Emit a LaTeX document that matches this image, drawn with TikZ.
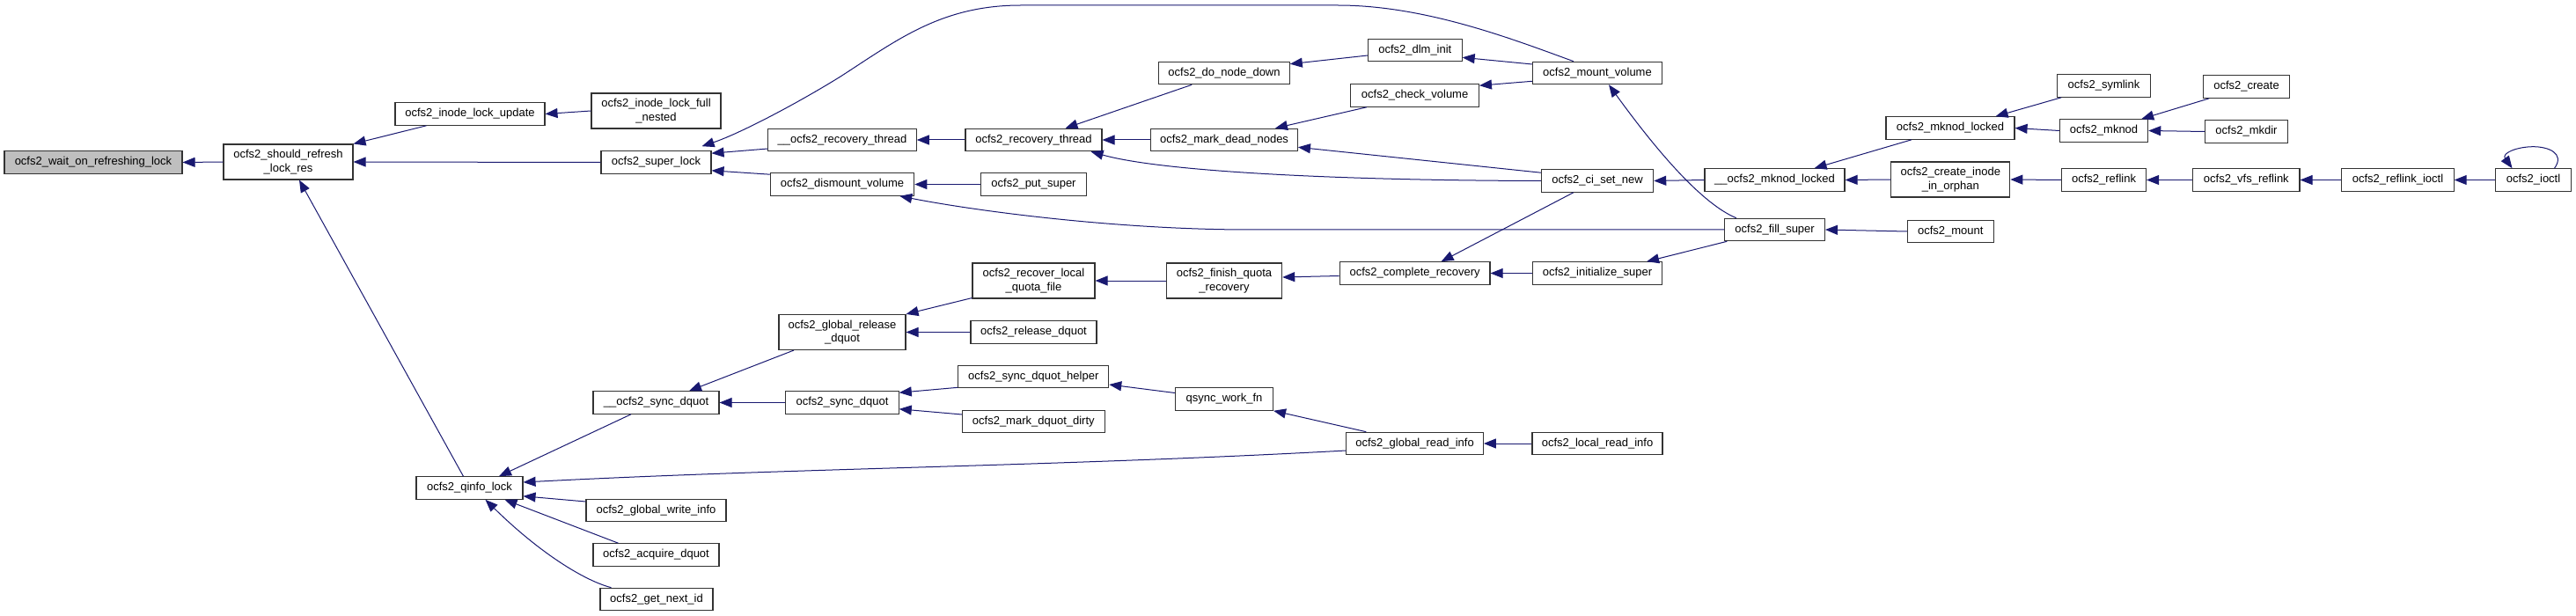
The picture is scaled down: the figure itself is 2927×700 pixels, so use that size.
\documentclass[tikz,border=0pt]{standalone}
\usepackage{fontspec}
\setmainfont{Liberation Sans}
\usetikzlibrary{arrows.meta,calc}
\definecolor{edgeblue}{HTML}{191970}
\begin{document}
\begin{tikzpicture}[x=0.5pt,y=-0.5pt,
  box/.style={draw=black!80, line width=0.55pt, fill=white, inner sep=0pt, align=center,
    font=\fontsize{6.5}{7.85}\selectfont, minimum height=12.75pt},
  tall/.style={minimum height=20pt},
  root/.style={fill=black!25},
  edge/.style={draw=edgeblue, line width=0.5pt, -{Triangle[length=7pt,width=5.5pt]}},
]
\useasboundingbox (0,0) rectangle (2927,700);
% nodes
\node[box,root,minimum width=101pt] (n0) at (106,184.5) {ocfs2\_wait\_on\_refreshing\_lock};
\node[box,tall,minimum width=73.5pt] (n1) at (327.5,184) {ocfs2\_should\_refresh\\\_lock\_res};
\node[box,minimum width=85pt] (n2) at (534,129.5) {ocfs2\_inode\_lock\_update};
\node[box,minimum width=62.5pt] (n3) at (745.5,184.5) {ocfs2\_super\_lock};
\node[box,minimum width=60.5pt] (n4) at (533.5,554.5) {ocfs2\_qinfo\_lock};
\node[box,tall,minimum width=73.5pt] (n5) at (745.5,126) {ocfs2\_inode\_lock\_full\\\_nested};
\node[box,minimum width=84.2pt] (n6) at (957,159) {\_\_ocfs2\_recovery\_thread};
\node[box,minimum width=81.7pt] (n7) at (957,209.5) {ocfs2\_dismount\_volume};
\node[box,minimum width=73.5pt] (n8) at (1815,83) {ocfs2\_mount\_volume};
\node[box,minimum width=77.5pt] (n9) at (1174.5,159) {ocfs2\_recovery\_thread};
\node[box,minimum width=59.65pt] (n10) at (1174.5,209.5) {ocfs2\_put\_super};
\node[box,minimum width=56.8pt] (n11) at (2016.6,261) {ocfs2\_fill\_super};
\node[box,minimum width=74.25pt] (n12) at (1391,83) {ocfs2\_do\_node\_down};
\node[box,minimum width=83.4pt] (n13) at (1391,159) {ocfs2\_mark\_dead\_nodes};
\node[box,minimum width=63.65pt] (n14) at (1815,205.5) {ocfs2\_ci\_set\_new};
\node[box,minimum width=53.3pt] (n15) at (1607.8,57) {ocfs2\_dlm\_init};
\node[box,minimum width=72.8pt] (n16) at (1607.6,108.5) {ocfs2\_check\_volume};
\node[box,minimum width=79.5pt] (n17) at (2016.5,204.5) {\_\_ocfs2\_mknod\_locked};
\node[box,minimum width=85.4pt] (n18) at (1607.6,310.5) {ocfs2\_complete\_recovery};
\node[box,minimum width=73.5pt] (n19) at (1815,310.5) {ocfs2\_initialize\_super};
\node[box,tall,minimum width=65.65pt] (n20) at (1391,319) {ocfs2\_finish\_quota\\\_recovery};
\node[box,tall,minimum width=69.5pt] (n21) at (1174.5,319) {ocfs2\_recover\_local\\\_quota\_file};
\node[box,tall,minimum width=72pt] (n22) at (957,377.5) {ocfs2\_global\_release\\\_dquot};
\node[box,minimum width=71.5pt] (n23) at (1174.5,377.5) {ocfs2\_release\_dquot};
\node[box,minimum width=71.5pt] (n24) at (745.5,457.5) {\_\_ocfs2\_sync\_dquot};
\node[box,minimum width=64.2pt] (n25) at (957,457.5) {ocfs2\_sync\_dquot};
\node[box,minimum width=77.7pt] (n26) at (1607.6,504) {ocfs2\_global\_read\_info};
\node[box,minimum width=79.5pt] (n27) at (745.5,580) {ocfs2\_global\_write\_info};
\node[box,minimum width=71.5pt] (n28) at (745.5,630.5) {ocfs2\_acquire\_dquot};
\node[box,minimum width=64pt] (n29) at (746,681) {ocfs2\_get\_next\_id};
\node[box,minimum width=85.4pt] (n30) at (1174.3,428) {ocfs2\_sync\_dquot\_helper};
\node[box,minimum width=80.85pt] (n31) at (1174.3,479) {ocfs2\_mark\_dquot\_dirty};
\node[box,minimum width=55.5pt] (n32) at (1391,453.5) {qsync\_work\_fn};
\node[box,minimum width=74pt] (n33) at (1815,504) {ocfs2\_local\_read\_info};
\node[box,minimum width=73pt] (n34) at (2216,145.5) {ocfs2\_mknod\_locked};
\node[box,tall,minimum width=67.5pt] (n35) at (2216.3,204) {ocfs2\_create\_inode\\\_in\_orphan};
\node[box,minimum width=49pt] (n36) at (2216.3,263) {ocfs2\_mount};
\node[box,minimum width=53.3pt] (n37) at (2390.5,97.5) {ocfs2\_symlink};
\node[box,minimum width=50.15pt] (n38) at (2390.5,148.5) {ocfs2\_mknod};
\node[box,minimum width=48pt] (n39) at (2390.5,204.5) {ocfs2\_reflink};
\node[box,minimum width=48.65pt] (n40) at (2552.5,98.5) {ocfs2\_create};
\node[box,minimum width=46.9pt] (n41) at (2552.5,149.5) {ocfs2\_mkdir};
\node[box,minimum width=60.7pt] (n42) at (2552.3,204.5) {ocfs2\_vfs\_reflink};
\node[box,minimum width=63.65pt] (n43) at (2724.5,204.5) {ocfs2\_reflink\_ioctl};
\node[box,minimum width=42.9pt] (n44) at (2878.5,204.5) {ocfs2\_ioctl};
% horizontal edges
\draw[edge] (n1.west) -- (n0.east);
\draw[edge] (n3.west) -- (n1.east);
\draw[edge] (n5.west) -- (n2.east);
\draw[edge] (n9.west) -- (n6.east);
\draw[edge] (n10.west) -- (n7.east);
\draw[edge] (n13.west) -- (n9.east);
\draw[edge] (n17.west) -- (n14.east);
\draw[edge] (n19.west) -- (n18.east);
\draw[edge] (n20.west) -- (n21.east);
\draw[edge] (n23.west) -- (n22.east);
\draw[edge] (n25.west) -- (n24.east);
\draw[edge] (n33.west) -- (n26.east);
\draw[edge] (n35.west) -- (n17.east);
\draw[edge] (n36.west) -- (n11.east);
\draw[edge] (n38.west) -- (n34.east);
\draw[edge] (n39.west) -- (n35.east);
\draw[edge] (n41.west) -- (n38.east);
\draw[edge] (n42.west) -- (n39.east);
\draw[edge] (n43.west) -- (n42.east);
\draw[edge] (n44.west) -- (n43.east);
% slanted edges
\draw[edge] ($(n2.south west)+(36,0)$) -- (n1.north east);
\draw[edge] ($(n4.north west)+(54,0)$) -- ($(n1.south)+(12.5,0)$);
\draw[edge] ($(n6.west)+(0,10)$) -- ($(n3.north east)+(0,3)$);
\draw[edge] ($(n7.north west)+(0,2)$) -- ($(n3.south east)+(0,-4)$);
\draw[edge] ($(n12.south west)+(38,0)$) -- ($(n9.north)+(36,0)$);
\draw[edge] ($(n15.west)+(0,6)$) -- ($(n12.north east)+(0,3)$);
\draw[edge] ($(n16.south west)+(18.6,0)$) -- ($(n13.north east)+(-26,0)$);
\draw[edge] ($(n14.north west)+(0,4)$) -- ($(n13.south east)+(0,-5)$);
\draw[edge] ($(n8.west)+(0,-10)$) -- ($(n15.south east)+(0,-5)$);
\draw[edge] ($(n8.south west)+(0,-4)$) -- ($(n16.north east)+(0,2)$);
\draw[edge] ($(n14.south west)+(37,0)$) -- ($(n18.north)+(30,0)$);
\draw[edge] ($(n18.west)+(0,3)$) -- ($(n20.east)+(0,-4)$);
\draw[edge] ($(n21.south west)+(0,-1)$) -- (n22.north east);
\draw[edge] ($(n22.south west)+(17.5,0)$) -- ($(n24.north)+(37.5,0)$);
\draw[edge] ($(n24.south)+(-28.5,0)$) -- ($(n4.north)+(33.5,0)$);
\draw[edge] ($(n27.west)+(0,-10)$) -- ($(n4.south east)+(0,-4)$);
\draw[edge] ($(n28.north west)+(29,0)$) -- ($(n4.south)+(40,0)$);
\draw[edge] ($(n30.south west)+(0,-1)$) -- ($(n25.north east)+(0,2)$);
\draw[edge] ($(n31.west)+(0,-8)$) -- ($(n25.south east)+(0,-6)$);
\draw[edge] ($(n32.west)+(0,-7)$) -- ($(n30.east)+(0,9)$);
\draw[edge] ($(n26.north west)+(23,0)$) -- (n32.south east);
\draw[edge] ($(n34.south west)+(29.5,0)$) -- ($(n17.north east)+(-35,0)$);
\draw[edge] ($(n11.south west)+(3,0)$) -- ($(n19.north east)+(-18,0)$);
\draw[edge] ($(n37.south west)+(5.5,0)$) -- ($(n34.north east)+(-22,0)$);
\draw[edge] ($(n40.south west)+(7,0)$) -- ($(n38.north east)+(-8,0)$);
% curved edges
\draw[edge] ($(n8.north west)+(47,0)$) .. controls (1720,45) and (1620,6) .. (1520,6)
  -- (1160,6) .. controls (1070,6) and (1020,45) .. (955,87)
  .. controls (905,118) and (840,152) .. ($(n3.north east)+(-11,-5)$);
\draw[edge] (n11.west) -- (1420,261) .. controls (1270,261) and (1110,240) .. ($(n7.south east)+(-17,0)$);
\draw[edge] (n14.west) .. controls (1520,205) and (1320,195) .. ($(n9.south east)+(-13,0)$);
\draw[edge] ($(n11.north west)+(13.5,0)$) .. controls (1935,232) and (1885,175) .. ($(n8.south)+(13,0)$);
\draw[edge] ($(n26.west)+(0,8)$) .. controls (1200,530) and (900,532) .. ($(n4.east)+(0,-6.5)$);
\draw[edge] ($(n29.north west)+(13,0)$) .. controls (665,660) and (615,630) .. ($(n4.south)+(18,0)$);
\draw[edge] ($(n44.north)+(24,0)$) .. controls (2915,174) and (2895,166.7) .. (2878.5,166.7)
  .. controls (2860,166.7) and (2842,174) .. ($(n44.north)+(-24,0)$);
\end{tikzpicture}
\end{document}
